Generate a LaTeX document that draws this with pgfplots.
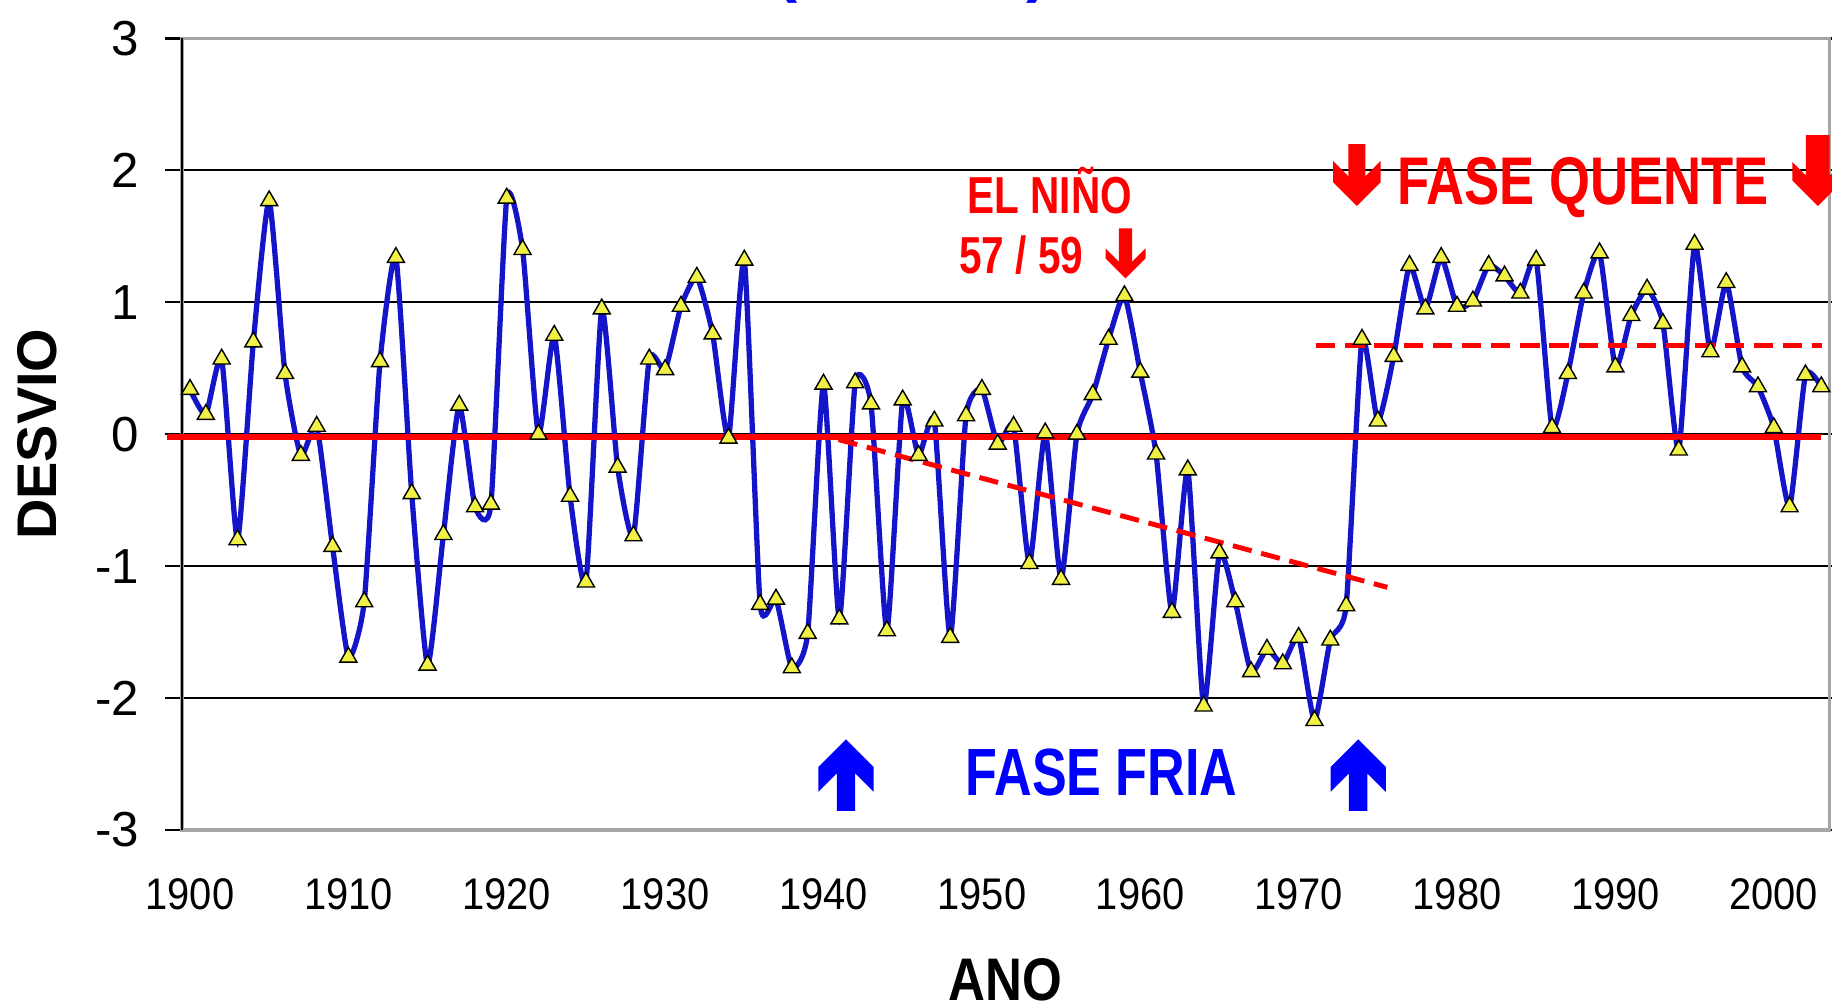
\documentclass[border=0pt]{standalone}
\usepackage{fontspec}
\setmainfont{Liberation Sans}
\newfontfamily\narrowsans[FakeStretch=0.78]{Liberation Sans}
\newfontfamily\ticksans[FakeStretch=0.9]{Liberation Sans}
\newfontfamily\labelsans[FakeStretch=0.85]{Liberation Sans}
\usepackage{pgfplots}
\pgfplotsset{compat=1.18}

\definecolor{lineblue}{RGB}{20,20,200}
\definecolor{markyellow}{RGB}{240,240,70}
\definecolor{hotred}{RGB}{255,0,0}
\definecolor{coldblue}{RGB}{0,0,255}
\definecolor{frame}{RGB}{165,165,165}

% one pixel of the reference
\def\px{0.2845pt}
% block arrow: colour, x, y of the tip, direction (1 down, -1 up), head half width, shaft half width, length, barb depth
\newcommand{\blockarrow}[8]{%
  \fill[#1] (axis cs:#2,#3)
    -- ++({-(#5)*\px},{(#4)*(#5)*\px})
    -- ++(0pt,{(#4)*((#8)-(#5))*\px})
    -- ++({((#5)-(#6))*\px},{-(#4)*((#5)-(#6))*\px})
    -- ++(0pt,{(#4)*((#7)-(#8)+(#5)-(#6))*\px})
    -- ++({2*(#6)*\px},0pt)
    -- ++(0pt,{-(#4)*((#7)-(#8)+(#5)-(#6))*\px})
    -- ++({((#5)-(#6))*\px},{(#4)*((#5)-(#6))*\px})
    -- ++(0pt,{-(#4)*((#8)-(#5))*\px})
    -- cycle;}

\begin{document}
\begin{tikzpicture}
\path[use as bounding box] (-51.8pt,-49.8pt) rectangle (469.4pt,236.15pt);
\begin{axis}[
  at={(0pt,0pt)}, anchor=south west,
  scale only axis, width=468.6pt, height=225.2pt,
  xmin=1899.5, xmax=2003.5, ymin=-3, ymax=3,
  xtick={1900,1910,...,2000},
  ytick={-3,-2,...,3},
  /pgf/number format/1000 sep={},
  /pgf/number format/assume math mode=true,
  xtick style={draw=none},
  ytick align=outside,
  major tick length=4.8pt,
  ytick style={black, line width=0.6pt},
  ymajorgrids,
  grid style={black, line width=0.6pt},
  axis line style={frame, line width=0.9pt},
  xticklabel style={font=\ticksans\fontsize{12.6}{14}\selectfont, anchor=center, yshift=-18.2pt},
  yticklabel style={font=\fontsize{14}{16}\selectfont, anchor=east, inner sep=0pt, xshift=-7.3pt},
  xlabel={ANO},
  ylabel={DESVIO},
  xlabel style={font=\labelsans\bfseries\fontsize{17.1}{18}\selectfont, at={(axis description cs:0.5,-0.1895)}, anchor=center},
  ylabel style={font=\bfseries\fontsize{15.9}{17}\selectfont, at={(axis description cs:-0.0881,0.5)}, anchor=center},
  clip=false,
]
\addplot[color=lineblue, line width=1.5pt, smooth, tension=0.33,
  mark=triangle*, mark size=2.8pt,
  mark options={solid, fill=markyellow, draw=black, line width=0.4pt}]
  table {
year dev
1900 0.34
1901 0.15
1902 0.57
1903 -0.80
1904 0.70
1905 1.77
1906 0.46
1907 -0.16
1908 0.06
1909 -0.85
1910 -1.69
1911 -1.27
1912 0.55
1913 1.34
1914 -0.45
1915 -1.75
1916 -0.76
1917 0.22
1918 -0.55
1919 -0.53
1920 1.79
1921 1.40
1922 0.00
1923 0.75
1924 -0.47
1925 -1.12
1926 0.95
1927 -0.25
1928 -0.77
1929 0.57
1930 0.49
1931 0.97
1932 1.19
1933 0.76
1934 -0.03
1935 1.32
1936 -1.29
1937 -1.25
1938 -1.77
1939 -1.51
1940 0.38
1941 -1.40
1942 0.39
1943 0.23
1944 -1.49
1945 0.26
1946 -0.16
1947 0.10
1948 -1.54
1949 0.14
1950 0.34
1951 -0.075
1952 0.06
1953 -0.98
1954 0.01
1955 -1.10
1956 0.00
1957 0.30
1958 0.72
1959 1.05
1960 0.47
1961 -0.15
1962 -1.35
1963 -0.27
1964 -2.06
1965 -0.90
1966 -1.27
1967 -1.80
1968 -1.63
1969 -1.74
1970 -1.54
1971 -2.17
1972 -1.56
1973 -1.30
1974 0.72
1975 0.10
1976 0.59
1977 1.28
1978 0.95
1979 1.34
1980 0.97
1981 1.01
1982 1.28
1983 1.20
1984 1.07
1985 1.32
1986 0.05
1987 0.46
1988 1.07
1989 1.375
1990 0.51
1991 0.90
1992 1.10
1993 0.84
1994 -0.12
1995 1.44
1996 0.625
1997 1.15
1998 0.51
1999 0.36
2000 0.05
2001 -0.55
2002 0.45
2003 0.36
};
% left spine is black, the rest of the frame grey
\draw[black, line width=0.8pt] (rel axis cs:0,0) -- (rel axis cs:0,1);
% reference lines
\draw[hotred, line width=1.5pt] (axis cs:1898.53,-0.02) -- (axis cs:2002.97,-0.02);
\draw[hotred, line width=1.4pt, dash pattern=on 5.5pt off 2.8pt] (axis cs:1940.95,-0.04) -- (axis cs:1975.6,-1.16);
\draw[hotred, line width=1.4pt, dash pattern=on 5.5pt off 2.8pt] (axis cs:1971.1,0.675) -- (axis cs:2003.07,0.675);
% annotations
\node[font=\narrowsans\bfseries\fontsize{19.2}{20}\selectfont, text=hotred, anchor=base, inner sep=0pt] at (axis cs:1987.97,1.738) {FASE QUENTE};
\node[font=\narrowsans\bfseries\fontsize{19}{20}\selectfont, text=coldblue, anchor=base, inner sep=0pt] at (axis cs:1957.55,-2.735) {FASE FRIA};
\node[font=\narrowsans\bfseries\fontsize{14.8}{16}\selectfont, text=hotred, anchor=base, inner sep=0pt] at (axis cs:1954.28,1.675) {EL NIÑO};
\node[font=\narrowsans\bfseries\fontsize{14.8}{16}\selectfont, text=hotred, anchor=base, inner sep=0pt] at (axis cs:1952.48,1.220) {57 / 59};
\node[font=\bfseries\fontsize{19}{20}\selectfont, text=coldblue, anchor=base, inner sep=0pt] at (axis cs:1937.7,3.368) {(};
\node[font=\bfseries\fontsize{19}{20}\selectfont, text=coldblue, anchor=base, inner sep=0pt] at (axis cs:1953.5,3.368) {)};
\blockarrow{hotred}{1959.07}{1.182}{1}{20}{6.7}{50}{30}
\blockarrow{hotred}{1973.68}{1.730}{1}{23.75}{8.5}{62}{45}
\blockarrow{hotred}{2002.78}{1.730}{1}{25.4}{11.9}{71}{44}
\blockarrow{coldblue}{1941.42}{-2.313}{-1}{27.6}{9.2}{71.4}{52.4}
\blockarrow{coldblue}{1973.76}{-2.313}{-1}{27.6}{9.2}{71.4}{52.4}
\end{axis}
\end{tikzpicture}
\end{document}
